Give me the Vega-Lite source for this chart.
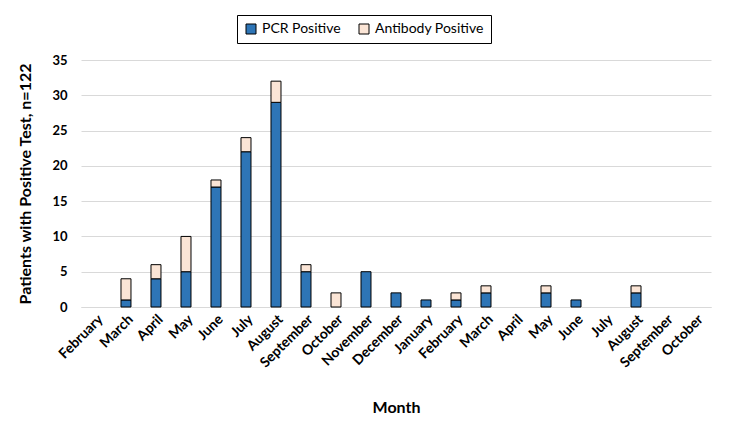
{
  "$schema": "https://vega.github.io/schema/vega-lite/v6.json",
  "autosize": "none",
  "width": 630,
  "height": 247,
  "padding": {"left": 81, "top": 60, "right": 21, "bottom": 124},
  "background": "white",
  "data": {
    "values": [
      {"month": "March 2020", "type": "PCR Positive", "ord": 1, "count": 1},
      {"month": "March 2020", "type": "Antibody Positive", "ord": 2, "count": 3},
      {"month": "April 2020", "type": "PCR Positive", "ord": 1, "count": 4},
      {"month": "April 2020", "type": "Antibody Positive", "ord": 2, "count": 2},
      {"month": "May 2020", "type": "PCR Positive", "ord": 1, "count": 5},
      {"month": "May 2020", "type": "Antibody Positive", "ord": 2, "count": 5},
      {"month": "June 2020", "type": "PCR Positive", "ord": 1, "count": 17},
      {"month": "June 2020", "type": "Antibody Positive", "ord": 2, "count": 1},
      {"month": "July 2020", "type": "PCR Positive", "ord": 1, "count": 22},
      {"month": "July 2020", "type": "Antibody Positive", "ord": 2, "count": 2},
      {"month": "August 2020", "type": "PCR Positive", "ord": 1, "count": 29},
      {"month": "August 2020", "type": "Antibody Positive", "ord": 2, "count": 3},
      {"month": "September 2020", "type": "PCR Positive", "ord": 1, "count": 5},
      {"month": "September 2020", "type": "Antibody Positive", "ord": 2, "count": 1},
      {"month": "October 2020", "type": "Antibody Positive", "ord": 2, "count": 2},
      {"month": "November 2020", "type": "PCR Positive", "ord": 1, "count": 5},
      {"month": "December 2020", "type": "PCR Positive", "ord": 1, "count": 2},
      {"month": "January 2021", "type": "PCR Positive", "ord": 1, "count": 1},
      {"month": "February 2021", "type": "PCR Positive", "ord": 1, "count": 1},
      {"month": "February 2021", "type": "Antibody Positive", "ord": 2, "count": 1},
      {"month": "March 2021", "type": "PCR Positive", "ord": 1, "count": 2},
      {"month": "March 2021", "type": "Antibody Positive", "ord": 2, "count": 1},
      {"month": "May 2021", "type": "PCR Positive", "ord": 1, "count": 2},
      {"month": "May 2021", "type": "Antibody Positive", "ord": 2, "count": 1},
      {"month": "June 2021", "type": "PCR Positive", "ord": 1, "count": 1},
      {"month": "August 2021", "type": "PCR Positive", "ord": 1, "count": 2},
      {"month": "August 2021", "type": "Antibody Positive", "ord": 2, "count": 1}
    ]
  },
  "mark": {"type": "bar", "stroke": "black", "strokeWidth": 1},
  "encoding": {
    "x": {
      "field": "month",
      "type": "ordinal",
      "title": "Month",
      "scale": {
        "domain": ["February 2020", "March 2020", "April 2020", "May 2020", "June 2020", "July 2020", "August 2020", "September 2020", "October 2020", "November 2020", "December 2020", "January 2021", "February 2021", "March 2021", "April 2021", "May 2021", "June 2021", "July 2021", "August 2021", "September 2021", "October 2021"],
        "paddingInner": 0.667,
        "paddingOuter": 0.333
      },
      "axis": {
        "labelExpr": "split(datum.value, ' ')[0]",
        "labelAngle": -45,
        "labelFont": "Lato",
        "labelFontWeight": "bold",
        "labelFontSize": 14,
        "labelColor": "#000000",
        "labelPadding": 5,
        "ticks": false,
        "domainColor": "#D9D9D9",
        "titleFont": "Lato",
        "titleFontWeight": "bold",
        "titleFontSize": 16,
        "titleColor": "#000000",
        "titlePadding": 30
      }
    },
    "y": {
      "field": "count",
      "type": "quantitative",
      "stack": "zero",
      "title": "Patients with Positive Test, n=122",
      "scale": {"domain": [0, 35]},
      "axis": {
        "values": [0, 5, 10, 15, 20, 25, 30, 35],
        "domain": false,
        "ticks": false,
        "gridColor": "#D9D9D9",
        "labelFont": "Lato",
        "labelFontWeight": "bold",
        "labelFontSize": 13,
        "labelColor": "#000000",
        "labelPadding": 14,
        "titleFont": "Lato",
        "titleFontWeight": "bold",
        "titleFontSize": 16,
        "titleColor": "#000000",
        "titlePadding": 18
      }
    },
    "color": {
      "field": "type",
      "type": "nominal",
      "sort": ["PCR Positive", "Antibody Positive"],
      "scale": {"domain": ["PCR Positive", "Antibody Positive"], "range": ["#2E75B6", "#FBE5D6"]},
      "legend": {
        "title": null,
        "orient": "none",
        "legendX": 156,
        "legendY": -45,
        "direction": "horizontal",
        "strokeColor": "black",
        "padding": 7,
        "symbolType": "square",
        "symbolSize": 100,
        "symbolStrokeColor": "black",
        "symbolStrokeWidth": 1,
        "labelFont": "Lato",
        "labelFontSize": 14,
        "labelColor": "#000000",
        "columnPadding": 16,
        "labelOffset": 4
      }
    },
    "order": {"field": "ord", "type": "quantitative"}
  },
  "config": {"view": {"stroke": null}}
}
